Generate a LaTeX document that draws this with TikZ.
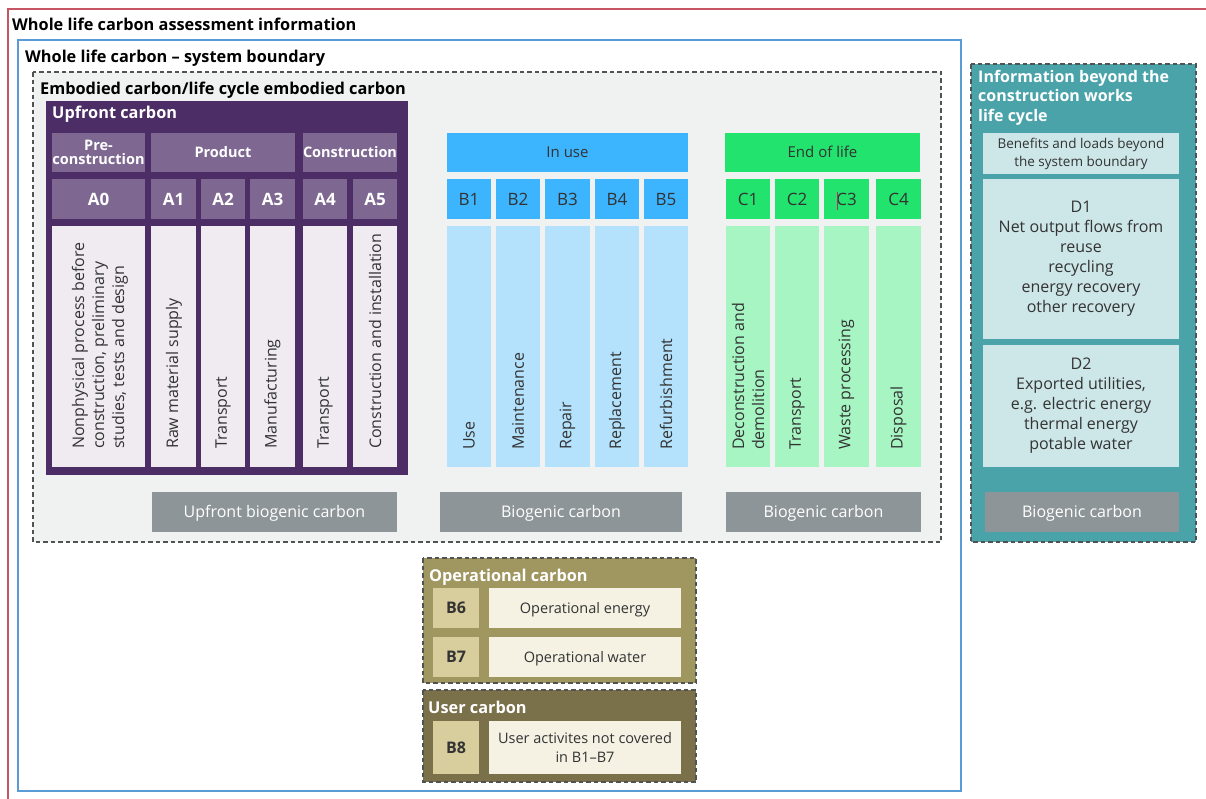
\documentclass[tikz,border=0pt]{standalone}
\usepackage{fontspec}
\setmainfont{Open Sans}
\definecolor{redline}{HTML}{C65663}
\definecolor{blueline}{HTML}{5B9BD5}
\definecolor{greyfill}{HTML}{F0F1F1}
\definecolor{dashc}{HTML}{4F5354}
\definecolor{purpdark}{HTML}{4C2D66}
\definecolor{purpmid}{HTML}{7E6892}
\definecolor{purplight}{HTML}{EFEBF1}
\definecolor{usehdr}{HTML}{3DB4FE}
\definecolor{uselight}{HTML}{B4E1FB}
\definecolor{eolhdr}{HTML}{22E36D}
\definecolor{eollight}{HTML}{A6F5C3}
\definecolor{biogrey}{HTML}{8E9598}
\definecolor{teal}{HTML}{4AA3A9}
\definecolor{teallight}{HTML}{CDE6E8}
\definecolor{olive}{HTML}{A09660}
\definecolor{olivelight}{HTML}{D7CD9D}
\definecolor{cream}{HTML}{F5F2E4}
\definecolor{olivedark}{HTML}{7A7049}
\definecolor{txt}{HTML}{333333}
\definecolor{caret}{HTML}{A8326E}
\newcommand\cellbox[7]{\node[cell,minimum width=#4pt,minimum height=#5pt,#6] (#1) at (#2,#3) {#7};}
\begin{document}
\begin{tikzpicture}[x=1pt,y=-1pt,
  cell/.style={anchor=north west,inner sep=0pt,outer sep=0pt,align=center},
  sl/.style={text height=#1pt,text depth=0pt},
  ttl/.style={anchor=base west,inner sep=0pt,font=\fontsize{16.3}{20}\selectfont\bfseries},
  hdr/.style={font=\fontsize{14.5}{16}\selectfont\bfseries,text=white,fill=purpmid},
  acode/.style={font=\fontsize{17}{20}\selectfont\bfseries,text=white,fill=purpmid,sl=12.1},
  adesc/.style={fill=purplight},
  bcode/.style={font=\fontsize{17}{20}\selectfont,text=txt,sl=12.1},
  vt/.style={rotate=90,anchor=west,align=left,inner sep=0pt,font=\fontsize{16}{20}\selectfont,text=txt},
  bio/.style={fill=biogrey,text=white,font=\fontsize{16}{20}\selectfont,sl=11.4},
  dashbox/.style={draw=dashc,line width=1.6pt,dash pattern=on 4.5pt off 3pt},
  dtext/.style={fill=teallight,text=txt,font=\fontsize{16}{20}\selectfont},
  opcode/.style={fill=olivelight,text=txt,font=\fontsize{16}{20}\selectfont\bfseries,sl=11.4},
  optext/.style={fill=cream,text=txt,font=\fontsize{14.5}{19}\selectfont}
]
\useasboundingbox (0,0) rectangle (1206,798);
% outer frames
\draw[redline,line width=1.5pt] (8,9) rectangle (1240,830);
\node[ttl,text=black] (t1) at (12,30) {Whole life carbon assessment information};
\draw[blueline,line width=2pt] (18,40) rectangle (961,791);
\node[ttl,text=black] (t2) at (25,62) {Whole life carbon -- system boundary};
\draw[dashbox,fill=greyfill] (33,72) rectangle (941,542);
\node[ttl,text=black] (t3) at (40,94) {Embodied carbon/life cycle embodied carbon};
% upfront
\fill[purpdark] (46,101) rectangle (408,475);
\node[ttl,text=white] (t4) at (52,118) {Upfront carbon};
\cellbox{hpre}{52}{133}{93}{39}{hdr}{Pre-\\[-2pt]construction}
\cellbox{hprod}{151}{133}{144}{39}{hdr,sl=10.4}{Product}
\cellbox{hcons}{303}{133}{94}{39}{hdr,sl=10.4}{Construction}
\cellbox{A0}{52}{179}{93}{40}{acode}{A0}
\cellbox{A1}{151}{179}{45}{40}{acode}{A1}
\cellbox{A2}{201}{179}{44}{40}{acode}{A2}
\cellbox{A3}{250}{179}{45}{40}{acode}{A3}
\cellbox{A4}{303}{179}{44}{40}{acode}{A4}
\cellbox{A5}{353}{179}{44}{40}{acode}{A5}
\cellbox{dA0}{52}{226}{93}{241}{adesc}{}
\cellbox{dA1}{151}{226}{45}{241}{adesc}{}
\cellbox{dA2}{201}{226}{44}{241}{adesc}{}
\cellbox{dA3}{250}{226}{45}{241}{adesc}{}
\cellbox{dA4}{303}{226}{44}{241}{adesc}{}
\cellbox{dA5}{353}{226}{44}{241}{adesc}{}
\node[vt] (vA0) at (100,449) {Nonphysical process before\\construction, preliminary\\studies, tests and design};
\node[vt] (vA1) at (174,449) {Raw material supply};
\node[vt] (vA2) at (223,449) {Transport};
\node[vt] (vA3) at (272.5,449) {Manufacturing};
\node[vt] (vA4) at (325,449) {Transport};
\node[vt] (vA5) at (375,449) {Construction and installation};
% in use
\cellbox{huse}{447}{133}{241}{39}{fill=usehdr,text=txt,font=\fontsize{15}{18}\selectfont,sl=10.7}{In use}
\cellbox{B1}{447}{179}{44}{40}{bcode,fill=usehdr}{B1}
\cellbox{B2}{496}{179}{44}{40}{bcode,fill=usehdr}{B2}
\cellbox{B3}{545}{179}{45}{40}{bcode,fill=usehdr}{B3}
\cellbox{B4}{595}{179}{44}{40}{bcode,fill=usehdr}{B4}
\cellbox{B5}{644}{179}{44}{40}{bcode,fill=usehdr}{B5}
\cellbox{dB1}{447}{226}{44}{241}{fill=uselight}{}
\cellbox{dB2}{496}{226}{44}{241}{fill=uselight}{}
\cellbox{dB3}{545}{226}{45}{241}{fill=uselight}{}
\cellbox{dB4}{595}{226}{44}{241}{fill=uselight}{}
\cellbox{dB5}{644}{226}{44}{241}{fill=uselight}{}
\node[vt] (vB1) at (469,450) {Use};
\node[vt] (vB2) at (518,450) {Maintenance};
\node[vt] (vB3) at (567.5,450) {Repair};
\node[vt] (vB4) at (617,450) {Replacement};
\node[vt] (vB5) at (666,450) {Refurbishment};
% end of life
\cellbox{heol}{725}{133}{195}{39}{fill=eolhdr,text=txt,font=\fontsize{15}{18}\selectfont,sl=10.7}{End of life}
\cellbox{C1}{726}{179}{44}{40}{bcode,fill=eolhdr}{C1}
\cellbox{C2}{775}{179}{44}{40}{bcode,fill=eolhdr}{C2}
\cellbox{C3}{824}{179}{45}{40}{bcode,fill=eolhdr}{C3}
\cellbox{C4}{876}{179}{45}{40}{bcode,fill=eolhdr}{C4}
\cellbox{dC1}{726}{226}{44}{241}{fill=eollight}{}
\cellbox{dC2}{775}{226}{44}{241}{fill=eollight}{}
\cellbox{dC3}{824}{226}{45}{241}{fill=eollight}{}
\cellbox{dC4}{876}{226}{45}{241}{fill=eollight}{}
\draw[caret,line width=1pt] (837,192) -- (837,210);
\node[vt] (vC1) at (748,450) {Deconstruction and\\demolition};
\node[vt] (vC2) at (797,450) {Transport};
\node[vt] (vC3) at (846.5,450) {Waste processing};
\node[vt] (vC4) at (898.5,450) {Disposal};
% biogenic
\cellbox{bio1}{152}{492}{245}{40}{bio}{Upfront biogenic carbon}
\cellbox{bio2}{440}{492}{242}{40}{bio}{Biogenic carbon}
\cellbox{bio3}{726}{492}{195}{40}{bio}{Biogenic carbon}
% beyond
\draw[dashbox,fill=teal] (971,64) rectangle (1196,542);
\node[ttl,text=white,align=left,anchor=north west,font=\fontsize{16}{19.5}\selectfont\bfseries] (t5) at (978,70) {Information beyond the\\construction works\\life cycle};
\cellbox{ben}{983}{133}{196}{41}{fill=teallight,text=txt,font=\fontsize{13.5}{18}\selectfont}{Benefits and loads beyond\\the system boundary}
\cellbox{D1}{983}{179}{196}{160}{dtext}{D1\\Net output flows from\\reuse\\recycling\\energy recovery\\other recovery}
\cellbox{D2}{983}{345}{196}{122}{dtext}{D2\\Exported utilities,\\e.g. electric energy\\thermal energy\\potable water}
\cellbox{bio4}{985}{492}{194}{40}{bio}{Biogenic carbon}
% operational
\draw[dashbox,fill=olive] (423,558) rectangle (696,683);
\node[ttl,text=white] (t6) at (429,581) {Operational carbon};
\cellbox{B6}{433}{588}{46}{40}{opcode}{B6}
\cellbox{op6}{489}{588}{192}{40}{optext,sl=10.4}{Operational energy}
\cellbox{B7}{433}{637}{46}{40}{opcode}{B7}
\cellbox{op7}{489}{637}{192}{40}{optext,sl=10.4}{Operational water}
\draw[dashbox,fill=olivedark] (423,690) rectangle (696,782);
\node[ttl,text=white] (t7) at (428,713) {User carbon};
\cellbox{B8}{433}{721}{46}{53}{opcode}{B8}
\cellbox{op8}{489}{721}{192}{53}{optext}{User activites not covered\\in B1--B7}
\end{tikzpicture}
\end{document}
